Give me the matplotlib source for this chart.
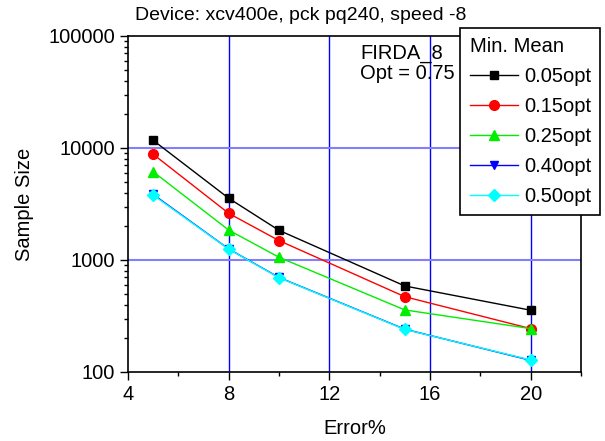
import matplotlib
matplotlib.use("Agg")
import matplotlib.pyplot as plt
from matplotlib.ticker import LogLocator, NullFormatter, FixedLocator

plt.rcParams['font.family'] = ['Liberation Sans', 'DejaVu Sans']

errors = [5, 8, 10, 15, 20]
s005 = [11700, 3560, 1840, 586, 356]
s015 = [8790, 2610, 1490, 470, 244]
s025 = [6140, 1850, 1057, 358, 244]
s040 = [3850, 1255, 698, 241, 127]
s050 = [3800, 1250, 695, 240, 128]
labels = ['0.05opt', '0.15opt', '0.25opt', '0.40opt', '0.50opt']
colors = ['black', 'red', '#00ee00', 'blue', 'cyan']
markers = ['s', 'o', '^', 'v', 'D']
msizes = [6, 7, 7, 6, 6.5]

fig = plt.figure(figsize=(6.05, 4.41), dpi=100)
ax = fig.add_axes([0.2116, 0.1565, 0.7487, 0.7619])

for ys, lab, c, m, ms in zip([s005, s015, s025, s040, s050], labels, colors, markers, msizes):
    ax.plot(errors, ys, color=c, marker=m, markersize=ms, linewidth=1, label=lab)

ax.set_yscale('log')
ax.set_xlim(4, 22)
ax.set_ylim(100, 100000)
ax.xaxis.set_major_locator(FixedLocator([4, 8, 12, 16, 20]))
ax.xaxis.set_minor_locator(FixedLocator([6, 10, 14, 18, 22]))
ax.yaxis.set_major_locator(LogLocator(base=10, numticks=10))
ax.yaxis.set_minor_locator(LogLocator(base=10, subs=range(2, 10), numticks=20))
ax.yaxis.set_minor_formatter(NullFormatter())
ax.yaxis.set_major_formatter(plt.FuncFormatter(lambda v, p: f"{int(round(v))}"))

for xv in [8, 12, 16, 20]:
    ax.axvline(xv, color='#0000ff', linewidth=1, zorder=0)
for yv in [1000, 10000]:
    ax.axhline(yv, color='#7f7fff', linewidth=1.5, zorder=0)

ax.tick_params(axis='both', which='major', direction='out', length=6, width=1, labelsize=14.5)
ax.tick_params(axis='both', which='minor', direction='out', length=3, width=1)
for sp in ax.spines.values():
    sp.set_linewidth(1.2)

ax.set_xlabel('Error%', fontsize=14.5, labelpad=11)
ax.set_ylabel('Sample Size', fontsize=14.5, labelpad=10)
fig.text(0.497, 0.985, 'Device: xcv400e, pck pq240, speed -8', fontsize=14,
         ha='center', va='top')

ax.text(0.513, 0.975, 'FIRDA_8\nOpt = 0.75', transform=ax.transAxes, fontsize=14.5,
        va='top', ha='left', linespacing=1.05)

leg = ax.legend(title='Min. Mean', loc='upper left', bbox_to_anchor=(0.734, 1.024),
                fontsize=14.5, title_fontsize=14.5, frameon=True, fancybox=False,
                edgecolor='black', framealpha=1, borderaxespad=0, handlelength=2.4,
                labelspacing=0.55, borderpad=0.45, handletextpad=0.3)
leg.get_frame().set_linewidth(1.2)
leg._legend_box.align = 'left'

fig.savefig('out.png', dpi=100)
